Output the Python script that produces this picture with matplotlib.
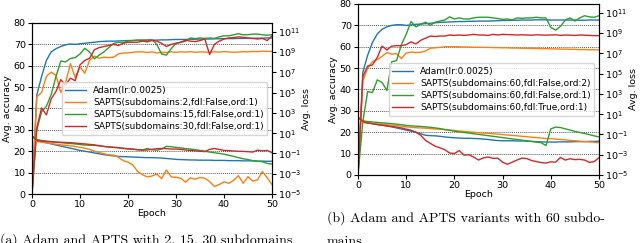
import matplotlib
matplotlib.use("Agg")
import matplotlib.pyplot as plt
from matplotlib.ticker import NullLocator

epochs = list(range(51))

# (a) accuracy
acc_a_adam = [0, 46.3, 55, 62.5, 66.5, 68, 69, 69.8, 70.2, 70, 70.3, 70.5, 70.8, 71, 71.3, 71.4, 71.5,
              71.5, 71.6, 71.7, 71.8, 71.8, 71.9, 71.9, 72, 72, 72, 72.1, 72.1, 72.2, 72.3, 72.3, 72.3,
              72.4, 72.4, 72.5, 72.5, 72.5, 72.6, 72.6, 72.7, 72.7, 72.7, 72.8, 72.8, 72.8, 72.8, 72.9,
              72.9, 73, 73]
acc_a_s2 = [0, 45.5, 47.5, 55, 57, 55.5, 47.5, 52, 61, 54.5, 59.5, 56.5, 62.5, 64.5, 63.5, 64, 63.8,
            64, 65.5, 66, 66, 66.3, 66.5, 66.5, 66.2, 66.5, 66, 66.3, 66.2, 66.5, 66.3, 66.5, 66.4,
            66.6, 66.3, 66.5, 66.4, 66.3, 66.5, 66.4, 66.6, 66.5, 66.3, 66.4, 66.6, 66.5, 66.7, 66.6,
            66.8, 66.7, 66.7]
acc_a_s15 = [0, 30, 38.5, 41, 46.5, 55, 62.2, 61.8, 63.4, 63.8, 65.5, 68.2, 66.4, 63.2, 65, 66.5, 68.5,
             70.4, 71, 70.8, 71.6, 71.8, 72, 72, 72, 72.2, 70, 65.5, 65, 68, 70.5, 71, 71.5, 73, 72.7,
             73, 72.8, 73, 72.8, 73.5, 74, 74, 74.5, 75, 74.5, 74.5, 74.8, 74.8, 74.5, 74.3, 74.5]
acc_a_s30 = [0, 31, 40.3, 37, 44.5, 48, 53.5, 51, 54.2, 53, 60.4, 62.5, 63.5, 67.5, 68.5, 69, 69.5,
             70, 69.5, 70.5, 71, 71, 71, 71.5, 71.2, 71.8, 71.5, 70.5, 69, 70, 70.5, 71, 72, 71.5,
             71.3, 71.8, 72.5, 65.3, 70, 71.5, 72.5, 73, 73.2, 73.5, 73.3, 73, 72.8, 72.5, 72.8, 71.8, 74]

# (a) loss
loss_a_adam = [5.5, 1.88, 1.4, 1.16, 0.87, 0.68, 0.53, 0.42, 0.33, 0.26, 0.2, 0.166, 0.137, 0.112,
               0.092, 0.076, 0.066, 0.057, 0.051, 0.049, 0.047, 0.044, 0.042, 0.04, 0.0386, 0.0386,
               0.037, 0.035, 0.032, 0.029, 0.026, 0.025, 0.0238, 0.0227, 0.0227, 0.0217, 0.0217,
               0.0217, 0.0206, 0.0206, 0.0206, 0.0196, 0.0196, 0.0196, 0.0186, 0.0186, 0.0186,
               0.0177, 0.0177, 0.0169, 0.0169]
loss_a_s2 = [5.5, 1.55, 1.27, 1.1, 0.95, 0.82, 0.71, 0.65, 0.56, 0.49, 0.4, 0.33, 0.25, 0.166, 0.124,
             0.092, 0.073, 0.069, 0.042, 0.0195, 0.014, 0.0074, 0.0017, 7.9e-4, 4.9e-4, 5.9e-4, 9.5e-4,
             3.3e-4, 2.3e-3, 4.9e-4, 4.4e-4, 3.6e-4, 1.5e-4, 4.0e-4, 2.9e-4, 4.2e-4, 3.6e-4, 1.7e-4,
             5.5e-5, 8.5e-5, 1.6e-4, 1.14e-4, 2.2e-4, 6.5e-4, 1.14e-4, 5.1e-4, 1.85e-4, 2.5e-4,
             1.64e-3, 4.0e-4, 8.5e-5]
loss_a_s15 = [5.5, 2.4, 1.88, 1.62, 1.4, 1.27, 1.16, 1.05, 0.95, 0.87, 0.76, 0.68, 0.65, 0.62, 0.56,
              0.49, 0.44, 0.4, 0.37, 0.33, 0.29, 0.27, 0.235, 0.22, 0.31, 0.235, 0.21, 0.27, 0.5, 0.46,
              0.4, 0.35, 0.3, 0.27, 0.235, 0.2, 0.166, 0.137, 0.118, 0.102, 0.084, 0.066, 0.051,
              0.0386, 0.03, 0.025, 0.0195, 0.0169, 0.0153, 0.0104, 0.009]
loss_a_s30 = [5.5, 1.88, 1.71, 1.55, 1.48, 1.33, 1.27, 1.21, 1.16, 1.05, 0.95, 0.87, 0.78, 0.71, 0.58,
              0.49, 0.44, 0.4, 0.37, 0.31, 0.29, 0.26, 0.235, 0.21, 0.22, 0.25, 0.3, 0.31, 0.3, 0.27,
              0.27, 0.25, 0.22, 0.2, 0.18, 0.166, 0.15, 0.25, 0.31, 0.25, 0.2, 0.19, 0.175, 0.166,
              0.158, 0.15, 0.137, 0.21, 0.18, 0.2, 0.118]

# (b) accuracy
acc_b_adam = [0, 48, 56, 62, 66, 68.2, 69.3, 70, 70.3, 70.3, 70, 70.2, 70.5, 70.6, 70.8, 71, 71.2,
              71.4, 71.5, 71.6, 71.7, 71.8, 71.8, 71.9, 71.9, 72, 72, 72, 72.1, 72.2, 72.3, 72.3, 72.4,
              72.4, 72.5, 72.5, 72.5, 72.6, 72.6, 72.6, 72.5, 72.5, 72.5, 72.5, 72.5, 72.5, 72.4,
              72.4, 72.5, 72.5, 72.5]
acc_b_o2 = [0, 44, 50, 53, 54, 55.5, 57.3, 56.5, 56.8, 54.5, 57, 57.5, 57.3, 57.4, 58, 59.3, 59.5,
            59.7, 60, 60, 60, 60, 59.9, 59.9, 59.8, 59.8, 59.7, 59.7, 59.6, 59.6, 59.5, 59.5, 59.4,
            59.4, 59.3, 59.3, 59.2, 59.2, 59.1, 59.1, 59.0, 59.0, 58.9, 58.9, 58.8, 58.8, 58.7, 58.7,
            58.6, 58.6, 58.5]
acc_b_o1 = [0, 25, 39, 38.6, 44.5, 43.3, 39.5, 53, 53.5, 61, 65.8, 71.8, 69.3, 70.5, 71.5, 70, 71.5,
            72, 72.5, 74, 73, 73.5, 73, 73, 73.5, 73.8, 73.8, 73.8, 73.5, 73.2, 72.8, 73, 72.5, 73.5,
            73.3, 73.5, 73.5, 73.8, 73.5, 73.5, 69, 67.8, 69.5, 72.5, 73.5, 72, 73.5, 74.5, 74, 73.8,
            74.5]
acc_b_fdl = [0, 46, 51, 51.5, 55, 60.3, 58.5, 60.3, 60.5, 60.5, 61, 62.3, 61.3, 63, 64, 65, 64.8, 65,
             65, 65.5, 65.3, 65.5, 65.3, 65.5, 65.8, 65.5, 65.5, 65.3, 65.8, 65.5, 65.8, 65.7, 65.6,
             65.5, 65.6, 65.5, 65.4, 65.6, 65.5, 65.4, 65.5, 65.6, 65.3, 65.5, 65.4, 65.3, 65.5, 65.4,
             65.3, 65.2, 65.2]

# (b) loss
loss_b_adam = [4.98, 1.88, 1.4, 1.16, 0.95, 0.82, 0.68, 0.56, 0.44, 0.345, 0.27, 0.21, 0.166, 0.118,
               0.084, 0.076, 0.073, 0.066, 0.057, 0.051, 0.047, 0.044, 0.042, 0.042, 0.04, 0.0386,
               0.035, 0.032, 0.0275, 0.025, 0.0238, 0.0238, 0.0238, 0.0227, 0.0227, 0.0217, 0.0206,
               0.0196, 0.0186, 0.0177, 0.0177, 0.0177, 0.0186, 0.0186, 0.0186, 0.0196, 0.0196,
               0.0196, 0.0206, 0.0206, 0.0217]
loss_b_o2 = [4.98, 1.55, 1.33, 1.21, 1.1, 1.05, 0.91, 0.82, 0.74, 0.65, 0.56, 0.51, 0.46, 0.44, 0.42,
             0.38, 0.345, 0.33, 0.3, 0.27, 0.25, 0.22, 0.2, 0.18, 0.166, 0.15, 0.137, 0.13, 0.118,
             0.107, 0.097, 0.088, 0.08, 0.073, 0.066, 0.06, 0.054, 0.049, 0.044, 0.04, 0.0386, 0.035,
             0.032, 0.029, 0.026, 0.0238, 0.0217, 0.0196, 0.0186, 0.0169, 0.0153]
loss_b_o1 = [4.98, 2.2, 1.88, 1.71, 1.55, 1.4, 1.27, 1.16, 1.05, 0.91, 0.78, 0.71, 0.65, 0.62, 0.56,
             0.51, 0.44, 0.38, 0.31, 0.26, 0.21, 0.18, 0.157, 0.137, 0.118, 0.102, 0.088, 0.076,
             0.066, 0.057, 0.049, 0.042, 0.036, 0.032, 0.0275, 0.0238, 0.0206, 0.0177, 0.0153,
             0.0082, 0.36, 0.53, 0.48, 0.36, 0.27, 0.2, 0.158, 0.124, 0.097, 0.073, 0.057]
loss_b_fdl = [4.98, 1.88, 1.33, 1.16, 0.95, 0.82, 0.71, 0.61, 0.53, 0.44, 0.33, 0.26, 0.166, 0.084,
              0.026, 0.0133, 0.007, 0.0048, 0.0031, 0.0015, 0.0013, 0.0026, 9.1e-4, 1.0e-3, 5.9e-4,
              3.0e-4, 4.9e-4, 5.9e-4, 4.4e-4, 4.6e-4, 1.85e-4, 1.14e-4, 1.85e-4, 3.0e-4, 4.6e-4,
              4.2e-4, 2.7e-4, 2.1e-4, 1.67e-4, 1.5e-4, 2.0e-4, 1.85e-4, 5.4e-4, 3.0e-4, 4.0e-4,
              3.3e-4, 3.5e-4, 3.0e-4, 1.76e-4, 2.1e-4, 5.1e-4]

labels_a = ["Adam(lr:0.0025)", "SAPTS(subdomains:2,fdl:False,ord:1)",
            "SAPTS(subdomains:15,fdl:False,ord:1)", "SAPTS(subdomains:30,fdl:False,ord:1)"]
labels_b = ["Adam(lr:0.0025)", "SAPTS(subdomains:60,fdl:False,ord:2)",
            "SAPTS(subdomains:60,fdl:False,ord:1)", "SAPTS(subdomains:60,fdl:True,ord:1)"]
colors = ["#1f77b4", "#ff7f0e", "#2ca02c", "#d62728"]

W, H = 640, 243
fig = plt.figure(figsize=(W / 100, H / 100), dpi=100)


def panel(rect, accs, losses, labels):
    ax = fig.add_axes(rect)
    ax2 = ax.twinx()
    handles = []
    for acc, loss, lab, c in zip(accs, losses, labels, colors):
        h, = ax.plot(epochs, acc, color=c, lw=1.0, label=lab)
        ax2.plot(epochs, loss, color=c, lw=1.0)
        handles.append(h)
    ax.set_xlim(0, 50)
    ax.set_ylim(0, 80)
    ax.set_xticks(range(0, 51, 10))
    ax.set_yticks(range(0, 81, 10))
    ax.grid(axis="y", linestyle=(0, (1, 1)), color="0.35", linewidth=0.7)
    ax.set_axisbelow(True)
    ax2.set_yscale("log")
    ax2.set_ylim(1e-5, 10 ** 11.87)
    ax2.set_yticks([10.0 ** k for k in range(-5, 12, 2)])
    ax2.yaxis.set_minor_locator(NullLocator())
    ax.tick_params(labelsize=6.8, length=3, pad=1.5)
    ax2.tick_params(labelsize=6.8, length=3, pad=1)
    ax.set_xlabel("Epoch", fontsize=6.8, labelpad=0)
    ax.set_ylabel("Avg. accuracy", fontsize=6.8, labelpad=1)
    ax2.set_ylabel("Avg. loss", fontsize=6.8, labelpad=0.5)
    ax2.legend(handles, labels, loc="center right", fontsize=6.5, framealpha=0.8,
               handlelength=2.3, borderpad=0.4, labelspacing=0.35)
    return ax


panel([32 / W, 49 / H, 240 / W, 171 / H],
      [acc_a_adam, acc_a_s2, acc_a_s15, acc_a_s30],
      [loss_a_adam, loss_a_s2, loss_a_s15, loss_a_s30], labels_a)
panel([358 / W, 68 / H, 241 / W, 171 / H],
      [acc_b_adam, acc_b_o2, acc_b_o1, acc_b_fdl],
      [loss_b_adam, loss_b_o2, loss_b_o1, loss_b_fdl], labels_b)

cap = dict(fontsize=10, family="cmr10", va="center", ha="left")
fig.text(0 / W, 1 - 240 / H, "(a) Adam and APTS with 2, 15, 30 subdomains", **cap)
fig.text(327 / W, 1 - 218 / H, "(b) Adam and APTS variants with 60 subdo-", **cap)
fig.text(327 / W, 1 - 242 / H, "mains", **cap)

fig.savefig("out.png", dpi=100)
